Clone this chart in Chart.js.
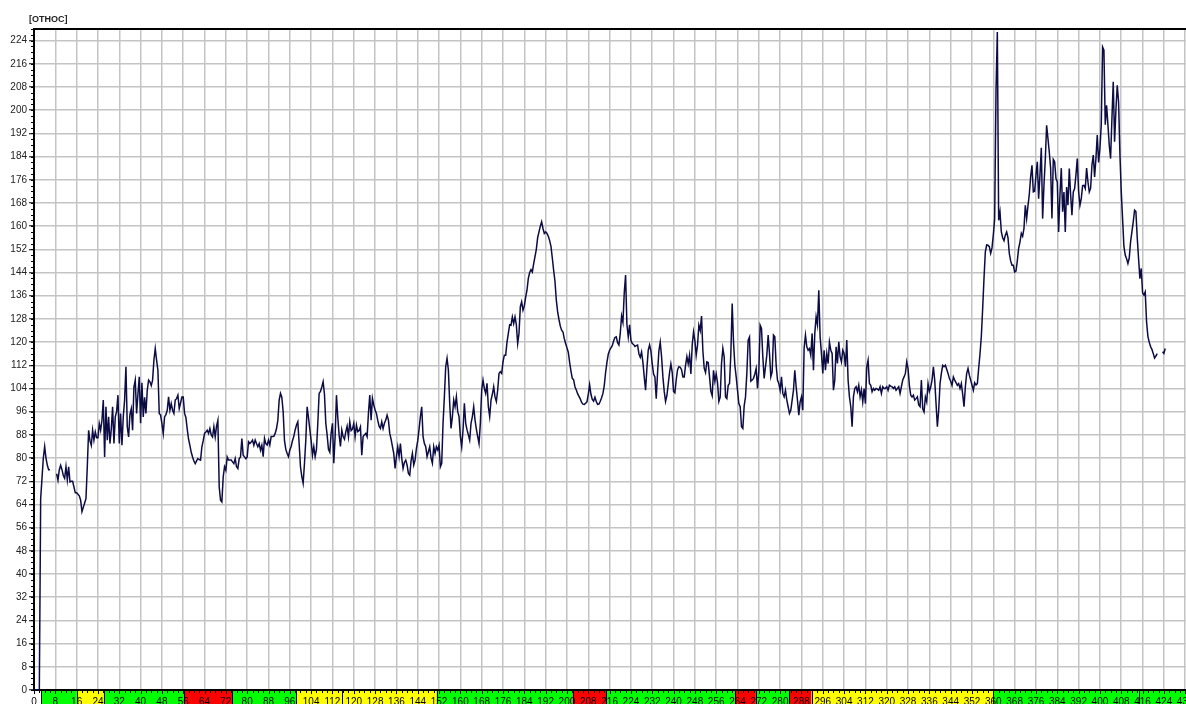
<!DOCTYPE html>
<html>
<head>
<meta charset="utf-8">
<script src="https://cdn.jsdelivr.net/npm/chart.js@4/dist/chart.umd.min.js"></script>
<style>
  html, body { margin: 0; padding: 0; background: #fff; }
  #wrap { position: relative; width: 1186px; height: 704px; overflow: hidden; }
  #title { position: absolute; left: 29px; top: 14px; font: bold 9px "Liberation Sans", Arial, sans-serif; color: #222; }
</style>
</head>
<body>
<div id="wrap">
  <canvas id="chart" width="1186" height="704"></canvas>
  <div id="title">[ОТНОС]</div>
</div>
<script>
// one sample every half unit along the x axis, starting at 0
const STEP = 0.5;
const level = [
  0, 0, 0, 0, 0, 66, 73, 80, 84, 80,                                   // 0
  77.5, 76, 76, null, null, null, null, 74.6, 72.4, 76,                // 5
  77.5, 76, 74, 73, 77, 72.5, 77, 71.8, 72, 72,                        // 10
  70, 68, 68, 67.5, 67, 65.5, 61.5, 63, 64.5, 66,                      // 15
  77, 89.6, 86, 84.4, 89.6, 86.2, 89, 87, 87, 91.9,                    // 20
  89.6, 93, 100, 80.4, 97.7, 86.2, 94.2, 85, 90, 97.7,                 // 25
  85, 94.2, 96, 101.7, 85, 95.4, 84.4, 94.2, 100, 111.5,               // 30
  90.8, 87.3, 95, 97, 89.6, 104.5, 106.9, 95.4, 102, 108,              // 35
  92, 106, 94.2, 101, 95.4, 103.4, 106.9, 106.3, 105, 106.9,           // 40
  113.8, 117.8, 113.8, 110.3, 95.4, 94.8, 91.9, 88.5, 94.2, 95,        // 45
  96.5, 101.1, 96.5, 98.8, 96.5, 95.4, 100, 100.5, 101.7, 97.1,        // 50
  99, 101.1, 101.1, 95.4, 94, 90, 86.5, 84.4, 82, 80.4,                // 55
  79, 78.1, 79, 79.8, 79.5, 79.3, 83.9, 86, 88.5, 89,                  // 60
  89.6, 88.5, 90.2, 88, 87.3, 90.8, 87.3, 91, 93, 70,                  // 65
  65.5, 64.9, 73.5, 77, 75.8, 80.4, 79.3, 79.3, 79.3, 78.7,            // 70
  78.1, 79.8, 77, 76.4, 79.8, 80.4, 86.7, 81, 80.4, 79.8,              // 75
  80.4, 85.6, 85, 85.5, 86.2, 84.4, 86.2, 85, 83.9, 85,                // 80
  82.7, 84.4, 80.5, 86.8, 85, 84.5, 86.2, 84.5, 87.4, 87.4,            // 85
  87.5, 88.5, 90.2, 93, 100, 102.3, 101, 96, 86, 83,                   // 90
  81.6, 80.5, 82.8, 84, 86, 87.5, 89.7, 91.4, 92.5, 85,                // 95
  77, 73.6, 71.3, 78.2, 86.2, 97.7, 94, 90, 86, 81,                    // 100
  83.9, 80.5, 83, 92, 102.3, 103, 104.5, 106.3, 102, 92,               // 105
  88, 83, 82, 88.5, 92, 78.2, 87.4, 101.7, 94, 88,                     // 110
  84, 89.7, 87.4, 86.5, 89, 91, 87.4, 92.5, 89.5, 90,                  // 115
  92, 87.4, 91.4, 89.1, 89.5, 90.8, 81, 87.4, 88, 88.5,                // 120
  87.4, 95.4, 101.7, 93.1, 100.6, 98.3, 96.6, 95.4, 93, 91,            // 125
  90.2, 92.5, 90.2, 92, 93.1, 94.8, 93.1, 88.5, 86.5, 84,              // 130
  81.6, 76.4, 80.5, 83.9, 80.5, 85, 79.9, 76.4, 78.5, 79.3,            // 135
  77.6, 74.7, 74.1, 79, 81.6, 77.6, 79.3, 83.3, 86, 90,                // 140
  94.3, 97.7, 87.4, 85, 83.9, 80.5, 82.2, 83.9, 80, 78.2,              // 145
  83.9, 81.6, 83.9, 82.8, 84.5, 77, 78.2, 92, 101.2, 111.5,            // 150
  114.4, 110.4, 98.9, 90.2, 94.3, 100, 97.7, 101.2, 96, 94.3,          // 155
  87.4, 83.9, 89.7, 98.9, 92, 89.7, 88, 86.2, 92, 94.3,                // 160
  97.7, 93.1, 90, 87.4, 85, 92, 103.5, 106.9, 104, 102.3,              // 165
  105.8, 97.7, 94.3, 100, 102, 104.6, 101.1, 99.5, 103.4, 109.2,       // 170
  109.8, 109.2, 113.2, 115.5, 115.5, 120, 123, 126, 125.8, 128.7,      // 175
  126.4, 128.7, 126, 119.5, 123, 132.2, 133.9, 131, 132.5, 135.5,      // 180
  137.9, 142, 144, 145, 144.2, 147, 149.5, 152, 156, 158,              // 185
  160, 161.5, 159.2, 157.5, 158, 157.5, 156.5, 155, 153, 149,          // 190
  144.8, 141, 134.5, 130.5, 127.8, 125.5, 124.1, 123.5, 121.2, 119.5,  // 195
  118, 116.5, 113, 110, 107.5, 107, 104.6, 103.5, 102.2, 101.3,        // 200
  100.4, 99.2, 98.6, 98.5, 98.9, 99.4, 102, 105.3, 102, 100.2,         // 205
  99.6, 101, 99.5, 98.5, 98.6, 99.6, 100.8, 102.3, 105, 109.5,         // 210
  113, 115.8, 117.2, 118, 118.8, 120.4, 121.6, 121.8, 119.8, 119,      // 215
  123, 129, 126.8, 137, 143.1, 126, 121.8, 126, 120.6, 119.5,          // 220
  119.2, 118.5, 118.8, 119, 116, 114.8, 116.6, 113, 108, 103.4,        // 225
  111, 117.2, 119, 117, 112.5, 109, 108, 100.5, 109.5, 117,            // 230
  120, 115, 108, 103, 99.5, 101.5, 105.5, 109.5, 112.5, 109.5,         // 235
  103, 102.5, 107, 110.5, 111.5, 111.3, 110.5, 108, 108, 112,          // 240
  115, 112.5, 115.5, 109, 119, 123.5, 120.5, 115.5, 119, 125.8,        // 245
  124, 129, 117, 111, 109.5, 113.2, 113, 108, 103, 101.5,              // 250
  110.3, 106.5, 109, 106, 99.5, 101, 112.6, 117.8, 114.9, 101.1,       // 255
  100.5, 105.1, 105.7, 116.1, 133.3, 120, 112, 108, 103.4, 98.8,       // 260
  97.7, 90.8, 90.2, 98, 101.1, 109.2, 120.7, 121.8, 106.5, 106.9,      // 265
  107.5, 109, 110.9, 104, 110, 125.8, 124.7, 114.9, 107.5, 111.5,      // 270
  115.5, 122.4, 116.1, 108, 109.7, 122.4, 121.8, 112, 106.9, 105.7,    // 275
  103.4, 108, 102.3, 101.1, 103.4, 100, 97.7, 95.4, 96.5, 100,         // 280
  103.4, 110.3, 104.6, 100, 94.8, 99.4, 101.1, 96.5, 118, 122.4,       // 285
  118.4, 117.2, 117.8, 115.5, 123, 110.3, 123, 128.7, 126, 137.9,      // 290
  121.8, 116.1, 109.2, 117.2, 110.3, 116.1, 112.6, 120, 117.2, 116.1,  // 295
  103.4, 106.9, 118.4, 112.6, 120.1, 115, 113.2, 117.2, 116.1, 111.5,  // 300
  120.7, 106.9, 101.1, 97.7, 90.8, 101.1, 104, 104.6, 102.9, 105.1,    // 305
  101.1, 103.5, 99.4, 104, 98.8, 111.5, 113.8, 105.7, 105.1, 102.9,    // 310
  104, 103.4, 104, 103.8, 103.4, 104.6, 102.3, 104.6, 104, 104,        // 315
  104.6, 103.4, 105.1, 104.8, 104.6, 104, 104.6, 103.4, 104, 104.6,    // 320
  102.3, 104.6, 106.9, 108, 109.2, 113.2, 110.9, 105, 101.7, 101.1,    // 325
  101.7, 100, 100.5, 101.1, 98.3, 97.7, 106.9, 97, 95.9, 101.1,        // 330
  99.4, 105.7, 103, 104.5, 106.9, 111.5, 106.9, 98.8, 90.8, 96.5,      // 335
  105.7, 109.2, 112, 111.5, 112, 110.6, 109.2, 107.5, 106.5, 105.1,    // 340
  108, 106.9, 106, 105.1, 105.7, 104, 105.7, 102, 97.7, 104.6,         // 345
  109.2, 110.9, 108.6, 106.9, 105.1, 103.4, 106, 105.2, 105.7, 111,    // 350
  116, 122, 131.6, 142, 151.1, 153.5, 153.4, 152.9, 150.6, 152.5,      // 355
  157, 162.6, 206.3, 227, 162, 164.9, 158, 156, 155, 156.9,            // 360
  158, 156, 150.5, 148, 146.5, 146.5, 144.2, 144.5, 148, 152.3,        // 365
  154.6, 157.5, 156.5, 159.2, 167.2, 162.6, 167, 171, 177, 181,        // 370
  171.8, 172, 177.5, 182.2, 169.5, 177.6, 187, 162.6, 174.1, 183,      // 375
  194.8, 190.2, 185.5, 180, 162.6, 183, 182.2, 176.4, 175.3, 158,      // 380
  170.7, 180, 165, 171.8, 158, 173.5, 167.2, 179.9, 171, 163.8,        // 385
  171.8, 173, 177.6, 183.3, 172, 167.2, 169.5, 174, 174.1, 173,        // 390
  180, 175.3, 171.8, 173, 181, 184.5, 177, 183.3, 191.4, 182,          // 395
  186.8, 195, 221.8, 220.7, 195, 201.7, 195, 187.9, 183.3, 197,        // 400
  209.8, 189.1, 200, 208.6, 202.9, 185, 172, 162.6, 153, 150,          // 405
  148.8, 147.1, 149, 154.6, 158, 161.5, 165.5, 165, 156, 148.8,        // 410
  141.9, 145.4, 137, 136.2, 137.3, 127, 122, 120, 118.5, 117.5,        // 415
  116.1, 114.5, 115.2, 116, null, null, null, 116.7, 116.1, 117.8      // 420
];

// status strip under the x axis: where each stretch starts and its state
const bandStart = [2.8, 16.1, 26.2, 56.3, 74.3, 98.5, 115.5, 151.1, 202.1, 214.8, 263, 270.9, 283.4, 291.8, 359.9, 414.6];
const bandState = ['ok', 'warn', 'ok', 'alarm', 'ok', 'warn', 'warn', 'ok', 'alarm', 'ok', 'alarm', 'ok', 'alarm', 'warn', 'ok', 'ok'];

const X_MAX = 432.3;
const Y_MAX = 228;
const TICK_STEP = 8;

const STATE_COLOR = { ok: '#00ff00', warn: '#ffff00', alarm: '#ff0000' };
const GRID = '#c4c4c4';
const LINE = '#0c0c44';
const FONT = '"Liberation Sans", Arial, sans-serif';

const points = level.map((v, i) => ({ x: i * STEP, y: v }));

const frame = {
  id: 'frame',
  afterDraw(chart) {
    const { ctx, chartArea: a, scales: { x, y } } = chart;
    ctx.save();

    // status strip
    const top = a.bottom + 1;
    const h = chart.height - top;
    bandStart.forEach((s, i) => {
      const e = i + 1 < bandStart.length ? bandStart[i + 1] : x.max;
      const x0 = x.getPixelForValue(s);
      const x1 = x.getPixelForValue(e);
      ctx.fillStyle = STATE_COLOR[bandState[i]];
      ctx.fillRect(x0, top, x1 - x0, h);
      ctx.fillStyle = '#000';
      ctx.fillRect(Math.round(x0), top, 1, h);
    });

    // minor ticks
    ctx.fillStyle = '#000';
    for (let v = 0; v <= x.max; v += 2) {
      const px = Math.round(x.getPixelForValue(v));
      ctx.fillRect(px, a.bottom, 1, v % TICK_STEP === 0 ? 4 : 3);
    }
    for (let v = 0; v <= y.max; v += 2) {
      const py = Math.round(y.getPixelForValue(v));
      ctx.fillRect(a.left - 3, py, 3, 1);
    }

    // x labels sit inside the strip
    ctx.font = '10px ' + FONT;
    ctx.textAlign = 'center';
    ctx.textBaseline = 'alphabetic';
    ctx.fillStyle = '#000';
    x.ticks.forEach(t => ctx.fillText(String(t.value), x.getPixelForValue(t.value), 705));

    // top frame line
    ctx.fillRect(a.left, a.top - 1, a.right - a.left, 2);
    ctx.restore();
  }
};

new Chart(document.getElementById('chart'), {
  type: 'line',
  data: {
    datasets: [{
      data: points,
      borderColor: LINE,
      borderWidth: 1.5,
      pointRadius: 0,
      tension: 0,
      spanGaps: false
    }]
  },
  options: {
    responsive: false,
    animation: false,
    devicePixelRatio: 1,
    layout: { padding: { top: 29, left: 0, right: 0, bottom: 0 } },
    plugins: { legend: { display: false }, tooltip: { enabled: false } },
    scales: {
      x: {
        type: 'linear',
        min: 0,
        max: X_MAX,
        afterFit: s => { s.height = 14; },
        ticks: { display: false, stepSize: TICK_STEP, includeBounds: false, autoSkip: false },
        grid: { color: GRID, lineWidth: 1.5, drawTicks: false },
        border: { color: '#000', width: 2 }
      },
      y: {
        min: 0,
        max: Y_MAX,
        afterFit: s => { s.width = 34; },
        ticks: {
          stepSize: TICK_STEP,
          includeBounds: false,
          color: '#222',
          padding: 2,
          font: { family: FONT, size: 10 }
        },
        grid: { color: GRID, lineWidth: 1.5, tickLength: 5, tickColor: '#000', tickWidth: 1 },
        border: { color: '#000', width: 2 }
      }
    }
  },
  plugins: [frame]
});
</script>
</body>
</html>
